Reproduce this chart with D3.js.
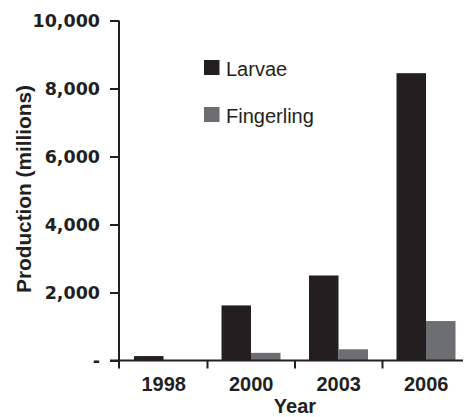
<!DOCTYPE html>
<html>
<head>
<meta charset="utf-8">
<script src="https://cdn.jsdelivr.net/npm/d3@7/dist/d3.min.js"></script>
<style>
  html, body { margin: 0; padding: 0; background: #fff; }
  svg { display: block; }
</style>
</head>
<body>
<script>
// Hatchery production by year, in millions
const years = ["1998", "2000", "2003", "2006"];
const seriesNames = ["Larvae", "Fingerling"];
const larvae = [130, 1620, 2500, 8450];
const fingerling = [15, 225, 330, 1160];
const yTicks = [0, 2000, 4000, 6000, 8000, 10000];
const seriesColors = ["#231f20", "#6d6e71"];

const width = 467, height = 417;
const ink = "#231f20";

const svg = d3.select("body").append("svg")
  .attr("width", width)
  .attr("height", height);

const x = d3.scaleBand().domain(years).range([120, 470]).paddingInner(0).paddingOuter(0);
const xSub = d3.scaleBand().domain(seriesNames).range([14, 73]);
const y = d3.scaleLinear().domain([0, 10000]).range([360.5, 20.5]);
const color = d3.scaleOrdinal().domain(seriesNames).range(seriesColors);

const rows = years.map((yr, i) => ({ year: yr, values: [
  { key: "Larvae", value: larvae[i] },
  { key: "Fingerling", value: fingerling[i] }
]}));

// Bars
const groups = svg.append("g").selectAll("g")
  .data(rows).join("g")
  .attr("transform", d => `translate(${x(d.year)},0)`);

groups.selectAll("rect")
  .data(d => d.values).join("rect")
  .attr("x", d => xSub(d.key))
  .attr("width", xSub.bandwidth())
  .attr("y", d => y(d.value))
  .attr("height", d => y(0) - y(d.value))
  .attr("fill", d => color(d.key));

// Y axis
const yAxis = d3.axisLeft(y)
  .tickValues(yTicks)
  .tickSize(9)
  .tickPadding(10)
  .tickFormat(d => d === 0 ? "-" : d3.format(",")(d));

const gy = svg.append("g").attr("transform", "translate(119,0)").call(yAxis);
gy.select(".domain").remove();
gy.selectAll(".tick line").attr("stroke", ink).attr("stroke-width", 2);
gy.selectAll(".tick text")
  .attr("fill", ink)
  .style("font-family", "'DejaVu Sans', sans-serif")
  .style("font-weight", "bold")
  .style("font-size", "17.5px");

svg.append("line")
  .attr("x1", 119).attr("x2", 119)
  .attr("y1", y(10000)).attr("y2", y(0) + 8)
  .attr("stroke", ink).attr("stroke-width", 2);

// X axis: baseline, group separator ticks, year labels
svg.append("line")
  .attr("x1", 110).attr("x2", 463)
  .attr("y1", y(0)).attr("y2", y(0))
  .attr("stroke", ink).attr("stroke-width", 2);

svg.append("g").selectAll("line")
  .data(years.slice(1)).join("line")
  .attr("x1", d => x(d)).attr("x2", d => x(d))
  .attr("y1", y(0)).attr("y2", y(0) + 8)
  .attr("stroke", ink).attr("stroke-width", 2);

svg.append("g").selectAll("text")
  .data(years).join("text")
  .attr("x", d => x(d) + x.bandwidth() / 2)
  .attr("y", 391)
  .attr("text-anchor", "middle")
  .attr("fill", ink)
  .style("font-family", "'Liberation Sans', Arial, sans-serif")
  .style("font-weight", "bold")
  .style("font-size", "20px")
  .text(d => d);

// Axis titles
svg.append("text")
  .attr("x", 295).attr("y", 413)
  .attr("text-anchor", "middle")
  .attr("fill", ink)
  .style("font-family", "'Liberation Sans', Arial, sans-serif")
  .style("font-weight", "bold")
  .style("font-size", "20px")
  .text("Year");

svg.append("text")
  .attr("transform", "translate(30.5,189) rotate(-90)")
  .attr("text-anchor", "middle")
  .attr("fill", ink)
  .style("font-family", "'Liberation Sans', Arial, sans-serif")
  .style("font-weight", "bold")
  .style("font-size", "20.8px")
  .text("Production (millions)");

// Legend
const legend = svg.append("g").selectAll("g")
  .data(seriesNames).join("g")
  .attr("transform", (d, i) => `translate(204,${60 + i * 47})`);

legend.append("rect")
  .attr("width", 15.5).attr("height", 15)
  .attr("fill", d => color(d));

legend.append("text")
  .attr("x", 22).attr("y", 15.5)
  .attr("fill", ink)
  .style("font-family", "'Liberation Sans', Arial, sans-serif")
  .style("font-size", "20px")
  .text(d => d);
</script>
</body>
</html>
